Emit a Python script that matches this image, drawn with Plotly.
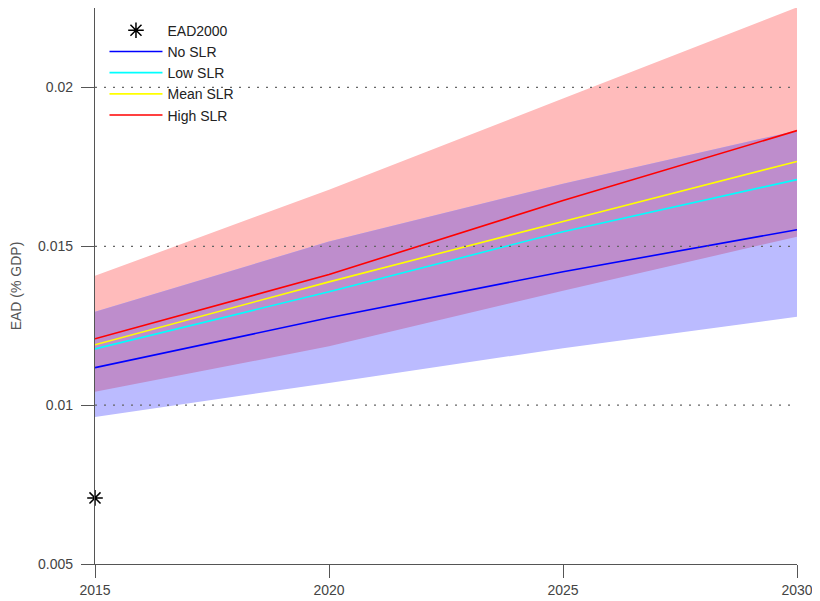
import plotly.graph_objects as go

years = [2015, 2020, 2025, 2030]

no_slr = [0.01118, 0.01275, 0.01420, 0.01552]
low_slr = [0.01177, 0.01357, 0.01546, 0.01710]
mean_slr = [0.01190, 0.01388, 0.01578, 0.01767]
high_slr = [0.01209, 0.01411, 0.01644, 0.01864]

no_slr_lo = [0.00963, 0.01070, 0.01179, 0.01278]
no_slr_hi = [0.01294, 0.01515, 0.01697, 0.01864]
high_slr_lo = [0.01042, 0.01185, 0.01360, 0.01530]
high_slr_hi = [0.01407, 0.01678, 0.01965, 0.02252]

ead2000_x = [2015]
ead2000_y = [0.00708]

y_ticks = [0.005, 0.01, 0.015, 0.02]
y_ticklabels = ["0.005", "0.01", "0.015", "0.02"]
grid_vals = [0.01, 0.015, 0.02]
x_ticks = [2015, 2020, 2025, 2030]

overlap_lo = [max(a, b) for a, b in zip(no_slr_lo, high_slr_lo)]
overlap_hi = [min(a, b) for a, b in zip(no_slr_hi, high_slr_hi)]

fig = go.Figure()


def band(lo, hi, color):
    fig.add_trace(go.Scatter(
        x=years + years[::-1], y=hi + lo[::-1], fill="toself",
        fillcolor=color, line=dict(width=0), mode="lines",
        showlegend=False, hoverinfo="skip"))


band(high_slr_lo, high_slr_hi, "#FFBBBB")
band(no_slr_lo, no_slr_hi, "#BBBBFF")
band(overlap_lo, overlap_hi, "#BE8DCC")

series = [("No SLR", no_slr, "#0000FF"), ("Low SLR", low_slr, "#00FFFF"),
          ("Mean SLR", mean_slr, "#FFFF00"), ("High SLR", high_slr, "#FF0000")]
for i, (name, vals, col) in enumerate(series):
    fig.add_trace(go.Scatter(x=years, y=vals, mode="lines", name=name,
                             line=dict(color=col, width=1.6), legendrank=10 + i))

fig.add_trace(go.Scatter(x=ead2000_x, y=ead2000_y, mode="markers", name="EAD2000",
                         marker=dict(symbol="asterisk-open", size=13,
                                     line=dict(color="black", width=1.5), color="black"),
                         cliponaxis=False, legendrank=1))

for g in grid_vals:
    fig.add_shape(type="line", xref="paper", yref="y", x0=0, x1=1, y0=g, y1=g,
                  line=dict(color="#666666", width=1.3, dash="2px,7px"), layer="above")

fig.update_layout(
    width=820, height=601,
    margin=dict(l=87, r=31, t=0, b=45, autoexpand=False),
    plot_bgcolor="white", paper_bgcolor="white",
    font=dict(family="Liberation Sans, Arial, sans-serif", size=14, color="#444444"),
    legend=dict(x=0.0135, y=0.988, xanchor="left", yanchor="top",
                bgcolor="rgba(0,0,0,0)", font=dict(size=14, color="#222222"),
                tracegroupgap=0, itemwidth=53),
    xaxis=dict(range=[2015, 2030], tickvals=x_ticks, ticks="outside", ticklen=13,
               tickcolor="#555555", showline=True, linecolor="#555555", linewidth=1.2,
               showgrid=False, zeroline=False, tickfont=dict(size=14, color="#444444")),
    yaxis=dict(range=[0.005, 0.0225], tickvals=y_ticks, ticktext=y_ticklabels,
               ticks="outside", ticklen=13, tickcolor="#555555", showline=True,
               linecolor="#555555", linewidth=1.2, showgrid=False, zeroline=False,
               ticklabelstandoff=5,
               title=dict(text="EAD (% GDP)", standoff=14, font=dict(size=14, color="#555555")),
               tickfont=dict(size=14, color="#444444")),
)

fig.write_html("out.html")
